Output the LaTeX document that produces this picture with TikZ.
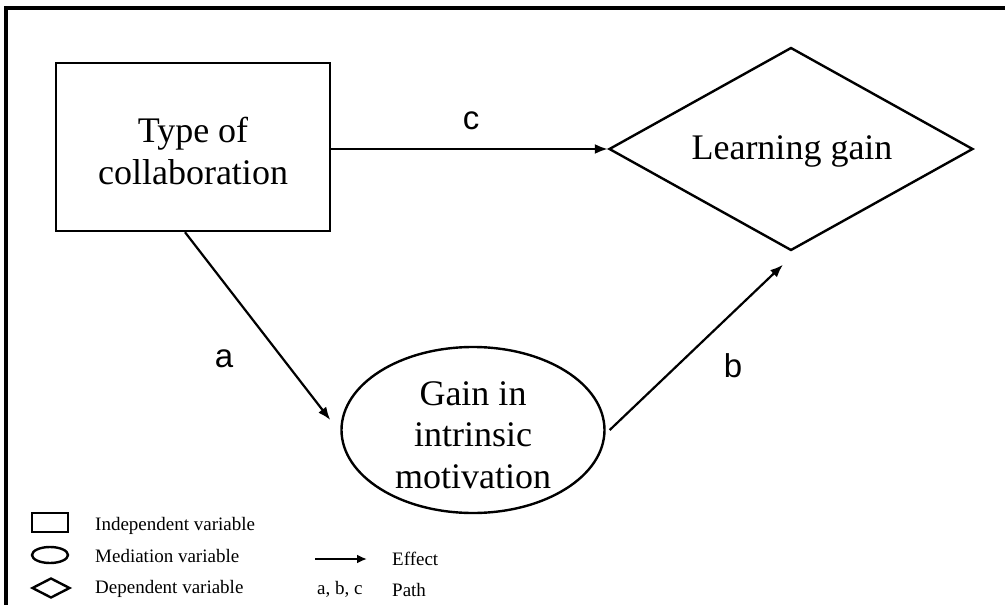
\documentclass[tikz,border=0pt]{standalone}
\usepackage{fontspec}
\setmainfont{Liberation Serif}
\newfontfamily\pathfont{Liberation Sans}
\usetikzlibrary{shapes.geometric,arrows.meta}
\begin{document}
\begin{tikzpicture}[x=1pt,y=-1pt,
  shapeline/.style={draw,line width=2.4pt,inner sep=0pt},
  boxshape/.style={shapeline,rectangle,minimum width=274pt,minimum height=168pt},
  ellshape/.style={shapeline,ellipse,minimum width=263pt,minimum height=166pt},
  diashape/.style={shapeline,diamond,shape aspect=1.8,minimum width=364pt,minimum height=203pt},
  maintext/.style={align=center,inner sep=0pt,font=\fontsize{36}{41.5}\selectfont},
  pathlabel/.style={anchor=base,inner sep=0pt,font=\pathfont\fontsize{33}{36}\selectfont},
  effect/.style={line width=2.2pt,-{Latex[length=13pt,width=10pt]}},
  legtext/.style={anchor=base west,inner sep=0pt,font=\fontsize{19}{22}\selectfont},
  legshape/.style={draw,line width=2.4pt,inner sep=0pt}
]
\useasboundingbox (0,0) rectangle (1005,605);
% frame
\draw[line width=3.2pt] (1010,8) -- (6,8) -- (6,610);

% main shapes
\node[boxshape] (tc) at (193,147) {};
\node[maintext] (tct) at (193,151) {Type of\\collaboration};
\node[diashape] (lg) at (791,149) {};
\node[maintext] (lgt) at (792,151) {Learning gain};
\node[ellshape] (gm) at (473,430) {};
\node[maintext] (gmt) at (473,435) {Gain in\\intrinsic\\motivation};

% connectors
\draw[effect] (tc.east |- lg.west) -- (lg.west);
\draw[effect] ([xshift=-8pt]tc.south) -- ([xshift=-10pt,yshift=10pt]gm.west);
\draw[effect] ([xshift=4pt]gm.east) -- ([xshift=-8pt,yshift=-13pt]lg.south);

% path labels
\node[pathlabel] (lc) at (471,129) {c};
\node[pathlabel] (la) at (224,367) {a};
\node[pathlabel] (lb) at (733,377) {b};

% legend
\node[legshape,rectangle,minimum width=36pt,minimum height=19pt] (kr) at (50,522.5) {};
\node[legshape,ellipse,minimum width=36pt,minimum height=16pt] (ke) at (50,555) {};
\node[legshape,diamond,minimum width=38pt,minimum height=20pt] (kd) at (51,588) {};
\node[legtext] (tr) at (95,530) {Independent variable};
\node[legtext] (te) at (95,562) {Mediation variable};
\node[legtext] (td) at (95,593) {Dependent variable};
\coordinate (ka) at (315,559);
\coordinate (kb) at (367,559);
\draw[line width=2.4pt,-{Latex[length=10pt,width=9pt]}] (ka) -- (kb);
\node[legtext] (tf) at (392,565) {Effect};
\node[legtext] (tabc) at (317,594) {a, b, c};
\node[legtext] (tp) at (392,596) {Path};
\end{tikzpicture}
\end{document}
